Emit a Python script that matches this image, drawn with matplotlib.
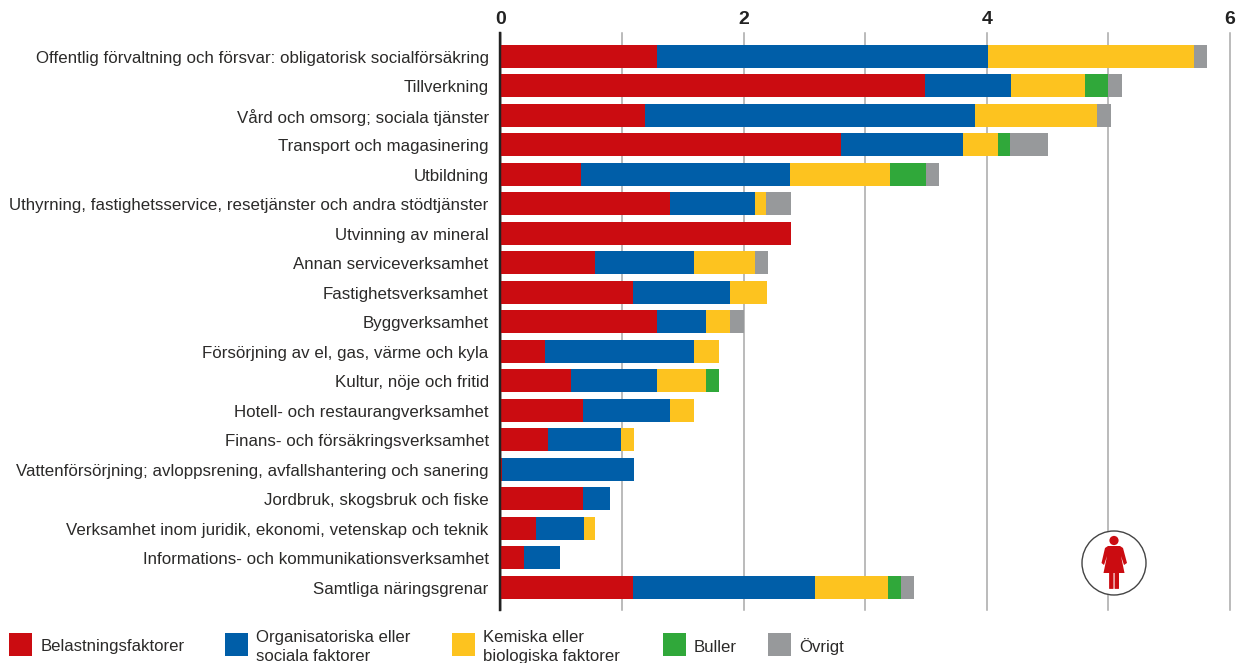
import matplotlib
matplotlib.use("Agg")
import matplotlib.pyplot as plt
from matplotlib.patches import Circle, Polygon, Rectangle, FancyBboxPatch
from matplotlib.transforms import ScaledTranslation

plt.rcParams['font.family'] = ['Liberation Sans', 'DejaVu Sans']

categories = [
    "Offentlig förvaltning och försvar: obligatorisk socialförsäkring",
    "Tillverkning",
    "Vård och omsorg; sociala tjänster",
    "Transport och magasinering",
    "Utbildning",
    "Uthyrning, fastighetsservice, resetjänster och andra stödtjänster",
    "Utvinning av mineral",
    "Annan serviceverksamhet",
    "Fastighetsverksamhet",
    "Byggverksamhet",
    "Försörjning av el, gas, värme och kyla",
    "Kultur, nöje och fritid",
    "Hotell- och restaurangverksamhet",
    "Finans- och försäkringsverksamhet",
    "Vattenförsörjning; avloppsrening, avfallshantering och sanering",
    "Jordbruk, skogsbruk och fiske",
    "Verksamhet inom juridik, ekonomi, vetenskap och teknik",
    "Informations- och kommunikationsverksamhet",
    "Samtliga näringsgrenar",
]

belastning = [1.29, 3.49, 1.19, 2.80, 0.66, 1.39, 2.39, 0.78, 1.09, 1.29, 0.37, 0.58, 0.68, 0.39, 0.01, 0.68, 0.29, 0.19, 1.09]
organisatoriska = [2.72, 0.71, 2.71, 1.00, 1.72, 0.70, 0, 0.81, 0.80, 0.40, 1.22, 0.71, 0.71, 0.60, 1.09, 0.22, 0.40, 0.30, 1.50]
kemiska = [1.69, 0.61, 1.01, 0.29, 0.82, 0.09, 0, 0.50, 0.30, 0.20, 0.21, 0.40, 0.20, 0.11, 0, 0, 0.09, 0, 0.60]
buller = [0, 0.19, 0, 0.10, 0.30, 0, 0, 0, 0, 0, 0, 0.11, 0, 0, 0, 0, 0, 0, 0.10]
ovrigt = [0.11, 0.11, 0.11, 0.31, 0.11, 0.21, 0, 0.11, 0, 0.11, 0, 0, 0, 0, 0, 0, 0, 0, 0.11]

series = [belastning, organisatoriska, kemiska, buller, ovrigt]
colors = ['#cb0c11', '#005ea8', '#fdc31f', '#30a83a', '#97999b']
tick_labels = ['0', '', '2', '', '4', '', '6']
legend_text = ["Belastningsfaktorer", "Organisatoriska eller\nsociala faktorer",
               "Kemiska eller\nbiologiska faktorer", "Buller", "Övrigt"]

W, H = 1238, 663
fig = plt.figure(figsize=(W / 100, H / 100), dpi=100)
ax = fig.add_axes([500.5 / W, (H - 610) / H, 729.5 / W, 577 / H])

# set_position resets the ticks, so it has to come first
for s in ['top', 'right', 'bottom']:
    ax.spines[s].set_visible(False)
ax.spines['left'].set_linewidth(1.75)
ax.spines['left'].set_color('#222222')
ax.spines['left'].set_position(('outward', 0.7))
ax.spines['left'].set_zorder(5)

y = list(range(len(categories)))
left = [0] * len(categories)
for vals, col in zip(series, colors):
    ax.barh(y, vals, left=left, height=0.78, color=col, zorder=3, linewidth=0)
    left = [a + b for a, b in zip(left, vals)]

ax.set_xlim(0, 6)
ax.set_ylim(18.78, -0.797)
ax.set_yticks(y)
ax.set_yticklabels(categories, fontsize=12.2, color='#2b2a29')
ax.set_xticks(range(7))
ax.set_xticklabels(tick_labels, fontsize=14, fontweight='bold', color='#222222')
ax.xaxis.tick_top()
ax.tick_params(axis='both', length=0)
ax.tick_params(axis='x', pad=3.5)
ax.tick_params(axis='y', pad=7.8)
ax.xaxis.grid(True, color='#a8a8a8', lw=1.1, zorder=0, clip_on=False)

down = ScaledTranslation(0, -0.5 / 100, fig.dpi_scale_trans)
for t in ax.get_yticklabels():
    t.set_transform(t.get_transform() + down)

# overlay in pixel coordinates for legend and the icon
ov = fig.add_axes([0, 0, 1, 1], zorder=10)
ov.set_xlim(0, W)
ov.set_ylim(H, 0)
ov.axis('off')

legend_x = [9, 225, 452, 663, 768]
text_x = [41, 256, 483, 694, 799]
for lx, tx, txt, col in zip(legend_x, text_x, legend_text, colors):
    ov.add_patch(Rectangle((lx, 633), 23, 23, color=col, lw=0))
    ov.text(tx, 647, txt, fontsize=12.1, color='#2b2a29', va='center', linespacing=1.33)

# woman icon
red = colors[0]
ov.add_patch(Circle((1114, 563), 32, fc='white', ec='#444444', lw=1.0, zorder=2))
ov.add_patch(Circle((1114, 540.5), 4.6, color=red, lw=0, zorder=3))
ov.add_patch(Polygon([(1108, 546), (1120, 546), (1123, 548), (1127, 563), (1124, 565), (1121, 556),
                      (1124.5, 573), (1103.5, 573), (1107, 556), (1104, 565), (1101.5, 563), (1105, 548)],
                     color=red, lw=0, zorder=3))
ov.add_patch(FancyBboxPatch((1109.5, 572), 3.6, 16.5, boxstyle="round,pad=0.4", color=red, lw=0, zorder=3))
ov.add_patch(FancyBboxPatch((1115, 572), 3.6, 16.5, boxstyle="round,pad=0.4", color=red, lw=0, zorder=3))

fig.savefig('out.png', dpi=100)
